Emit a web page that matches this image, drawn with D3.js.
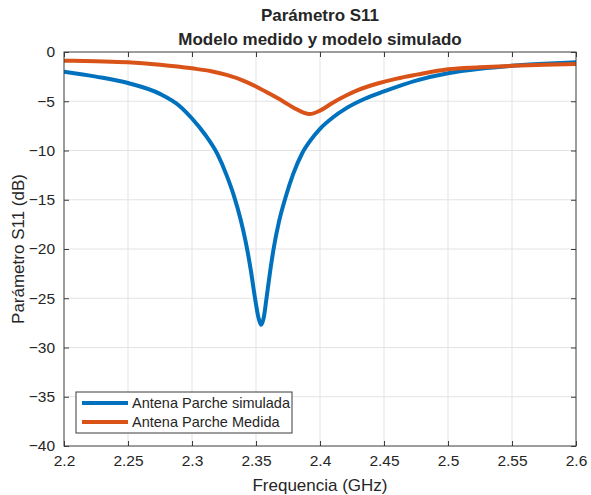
<!DOCTYPE html>
<html>
<head>
<meta charset="utf-8">
<script src="https://cdn.jsdelivr.net/npm/d3@7"></script>
<style>
  body { margin: 0; background: #fff; }
  text { font-family: "Liberation Sans", Arial, sans-serif; fill: #262626; }
</style>
</head>
<body>
<div id="chart"></div>
<script>
// values (GHz, dB)
const simFreq = [2.20, 2.225, 2.25, 2.275, 2.29, 2.30, 2.31, 2.32, 2.327, 2.333, 2.338, 2.342, 2.346, 2.349, 2.352, 2.354, 2.356, 2.358, 2.361, 2.364, 2.368, 2.373, 2.379, 2.386, 2.393, 2.40, 2.41, 2.42, 2.435, 2.45, 2.475, 2.50, 2.525, 2.55, 2.575, 2.60];
const simDb   = [-2.0, -2.5, -3.15, -4.25, -5.45, -6.75, -8.35, -10.4, -12.5, -14.7, -17.0, -19.3, -22.2, -24.8, -27.0, -27.7, -27.0, -25.2, -22.3, -19.8, -17.2, -14.8, -12.4, -10.3, -8.9, -7.8, -6.65, -5.75, -4.75, -4.0, -2.9, -2.15, -1.7, -1.4, -1.2, -1.05];

const medFreq = [2.20, 2.225, 2.25, 2.275, 2.30, 2.315, 2.327, 2.34, 2.35, 2.36, 2.371, 2.38, 2.387, 2.392, 2.40, 2.41, 2.42, 2.43, 2.445, 2.46, 2.4755, 2.50, 2.525, 2.55, 2.575, 2.60];
const medDb   = [-0.88, -0.95, -1.05, -1.3, -1.66, -1.95, -2.33, -2.9, -3.5, -4.2, -5.0, -5.7, -6.15, -6.3, -5.95, -5.15, -4.45, -3.85, -3.2, -2.7, -2.3, -1.75, -1.55, -1.4, -1.3, -1.22];

const xTicks = [2.2, 2.25, 2.3, 2.35, 2.4, 2.45, 2.5, 2.55, 2.6];
const yTicks = [0, -5, -10, -15, -20, -25, -30, -35, -40];
const seriesNames = ["Antena Parche simulada", "Antena Parche Medida"];
const seriesColors = ["#0072BD", "#D95319"];

const width = 591, height = 495;
const margin = {top: 52, right: 15, bottom: 49, left: 64};
const iw = width - margin.left - margin.right;
const ih = height - margin.top - margin.bottom;

const svg = d3.select("#chart").append("svg")
    .attr("width", width)
    .attr("height", height);

const g = svg.append("g")
    .attr("transform", "translate(" + margin.left + "," + margin.top + ")");

const x = d3.scaleLinear().domain([2.2, 2.6]).range([0, iw]);
const y = d3.scaleLinear().domain([-40, 0]).range([ih, 0]);

// grid
g.append("g").selectAll("line").data(xTicks.slice(1, -1)).enter().append("line")
    .attr("x1", d => x(d)).attr("x2", d => x(d))
    .attr("y1", 0).attr("y2", ih)
    .attr("stroke", "#e3e3e3");
g.append("g").selectAll("line").data(yTicks.slice(1, -1)).enter().append("line")
    .attr("y1", d => y(d)).attr("y2", d => y(d))
    .attr("x1", 0).attr("x2", iw)
    .attr("stroke", "#e3e3e3");

// curves
const line = d3.line()
    .x(d => x(d[0]))
    .y(d => y(d[1]))
    .curve(d3.curveMonotoneX);

const series = [d3.zip(simFreq, simDb), d3.zip(medFreq, medDb)];

g.append("defs").append("clipPath").attr("id", "clip")
    .append("rect").attr("width", iw).attr("height", ih);

g.append("g").attr("clip-path", "url(#clip)")
    .selectAll("path").data(series).enter().append("path")
    .attr("d", line)
    .attr("fill", "none")
    .attr("stroke", (d, i) => seriesColors[i])
    .attr("stroke-width", 4)
    .attr("stroke-linejoin", "round");

// axes (MATLAB style: inner ticks on all four sides)
const axisColor = "#3a3a3a";
function styleAxis(sel) {
    sel.select(".domain").remove();
    sel.selectAll(".tick line").attr("stroke", axisColor);
    sel.selectAll(".tick text").attr("font-size", 15.5).attr("fill", "#262626");
}

g.append("g").attr("transform", "translate(0," + ih + ")")
    .call(d3.axisBottom(x).tickValues(xTicks).tickSizeInner(-5).tickPadding(9).tickFormat(d3.format("")))
    .call(styleAxis);
g.append("g")
    .call(d3.axisTop(x).tickValues(xTicks).tickSizeInner(-5).tickFormat(""))
    .call(styleAxis);
g.append("g")
    .call(d3.axisLeft(y).tickValues(yTicks).tickSizeInner(-5).tickPadding(9).tickFormat(d3.format("")))
    .call(styleAxis);
g.append("g").attr("transform", "translate(" + iw + ",0)")
    .call(d3.axisRight(y).tickValues(yTicks).tickSizeInner(-5).tickFormat(""))
    .call(styleAxis);

g.append("rect")
    .attr("width", iw).attr("height", ih)
    .attr("fill", "none")
    .attr("stroke", axisColor)
    .attr("stroke-width", 1);

// titles
svg.append("text")
    .attr("x", margin.left + iw / 2).attr("y", 21)
    .attr("text-anchor", "middle")
    .attr("font-size", 17).attr("font-weight", "bold")
    .text("Parámetro S11");
svg.append("text")
    .attr("x", margin.left + iw / 2).attr("y", 45)
    .attr("text-anchor", "middle")
    .attr("font-size", 17).attr("font-weight", "bold")
    .text("Modelo medido y modelo simulado");

svg.append("text")
    .attr("x", margin.left + iw / 2).attr("y", 491)
    .attr("text-anchor", "middle")
    .attr("font-size", 17)
    .text("Frequencia (GHz)");

svg.append("text")
    .attr("transform", "translate(24," + (margin.top + ih / 2) + ") rotate(-90)")
    .attr("text-anchor", "middle")
    .attr("font-size", 17)
    .text("Parámetro S11 (dB)");

// legend
const legend = g.append("g").attr("transform", "translate(12," + (ih - 54) + ")");
legend.append("rect")
    .attr("width", 216).attr("height", 41)
    .attr("fill", "#fff")
    .attr("stroke", axisColor);
const item = legend.selectAll(".item").data(seriesNames).enter().append("g")
    .attr("transform", (d, i) => "translate(0," + (11 + i * 19) + ")");
item.append("line")
    .attr("x1", 6).attr("x2", 52)
    .attr("stroke", (d, i) => seriesColors[i])
    .attr("stroke-width", 4);
item.append("text")
    .attr("x", 56).attr("y", 5)
    .attr("font-size", 14.5)
    .text(d => d);
</script>
</body>
</html>
